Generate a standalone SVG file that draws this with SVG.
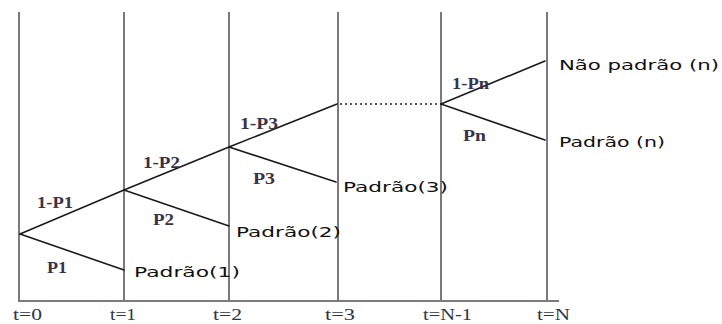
<svg xmlns="http://www.w3.org/2000/svg" width="722" height="324" viewBox="0 0 722 324">
<style>
.grid{stroke:#7a7a7a;stroke-width:2;fill:none}
.edge{stroke:#1a1a1a;stroke-width:1.6;fill:none;stroke-linecap:round}
.dot{stroke:#1a1a1a;stroke-width:1.5;stroke-dasharray:2 3;fill:none}
.p{font-family:"Liberation Serif",serif;font-weight:bold;font-size:16px;fill:#3a3248}
.t{font-family:"Liberation Serif",serif;font-size:16px;fill:#2e3448}
.s{font-family:"DejaVu Sans",sans-serif;font-size:14px;fill:#111}
</style>
<rect width="722" height="324" fill="#fff"/>
<g id="axes">
<line class="grid" x1="19" y1="12" x2="19" y2="302"/>
<line class="grid" x1="124" y1="12" x2="124" y2="302"/>
<line class="grid" x1="229" y1="12" x2="229" y2="302"/>
<line class="grid" x1="338" y1="12" x2="338" y2="302"/>
<line class="grid" x1="441" y1="12" x2="441" y2="302"/>
<line class="grid" x1="547" y1="12" x2="547" y2="302"/>
<line class="grid" x1="18" y1="301" x2="559" y2="301"/>
</g>
<g id="connectors">
<line class="edge" x1="20" y1="234" x2="124" y2="190"/>
<line class="edge" x1="20" y1="234" x2="124" y2="270"/>
<line class="edge" x1="124" y1="190" x2="229" y2="147"/>
<line class="edge" x1="124" y1="190" x2="229" y2="226"/>
<line class="edge" x1="229" y1="147" x2="337" y2="104"/>
<line class="edge" x1="229" y1="147" x2="336" y2="182"/>
<line class="dot" x1="340" y1="104" x2="441" y2="104"/>
<line class="edge" x1="441" y1="104" x2="545" y2="61"/>
<line class="edge" x1="441" y1="104" x2="545" y2="140"/>
</g>
<g id="probabilities">
<text class="p" x="37" y="208" textLength="36" lengthAdjust="spacingAndGlyphs">1-P1</text>
<text class="p" x="47" y="273" textLength="20" lengthAdjust="spacingAndGlyphs">P1</text>
<text class="p" x="143" y="168" textLength="37" lengthAdjust="spacingAndGlyphs">1-P2</text>
<text class="p" x="153" y="225" textLength="21" lengthAdjust="spacingAndGlyphs">P2</text>
<text class="p" x="240" y="129" textLength="38" lengthAdjust="spacingAndGlyphs">1-P3</text>
<text class="p" x="253" y="184" textLength="22" lengthAdjust="spacingAndGlyphs">P3</text>
<text class="p" x="452" y="89" textLength="37" lengthAdjust="spacingAndGlyphs">1-Pn</text>
<text class="p" x="463" y="141" textLength="23" lengthAdjust="spacingAndGlyphs">Pn</text>
</g>
<g id="outcomes">
<text class="s" x="134" y="277" textLength="106" lengthAdjust="spacingAndGlyphs">Padrão(1)</text>
<text class="s" x="236" y="237" textLength="105" lengthAdjust="spacingAndGlyphs">Padrão(2)</text>
<text class="s" x="343" y="192" textLength="105" lengthAdjust="spacingAndGlyphs">Padrão(3)</text>
<text class="s" x="559" y="70" textLength="160" lengthAdjust="spacingAndGlyphs">Não padrão (n)</text>
<text class="s" x="559" y="147" textLength="106" lengthAdjust="spacingAndGlyphs">Padrão (n)</text>
</g>
<g id="times">
<text class="t" x="13" y="320" textLength="29" lengthAdjust="spacingAndGlyphs">t=0</text>
<text class="t" x="110" y="320" textLength="26" lengthAdjust="spacingAndGlyphs">t=1</text>
<text class="t" x="213" y="320" textLength="29" lengthAdjust="spacingAndGlyphs">t=2</text>
<text class="t" x="325" y="320" textLength="30" lengthAdjust="spacingAndGlyphs">t=3</text>
<text class="t" x="423" y="320" textLength="49" lengthAdjust="spacingAndGlyphs">t=N-1</text>
<text class="t" x="537" y="320" textLength="33" lengthAdjust="spacingAndGlyphs">t=N</text>
</g>
</svg>
